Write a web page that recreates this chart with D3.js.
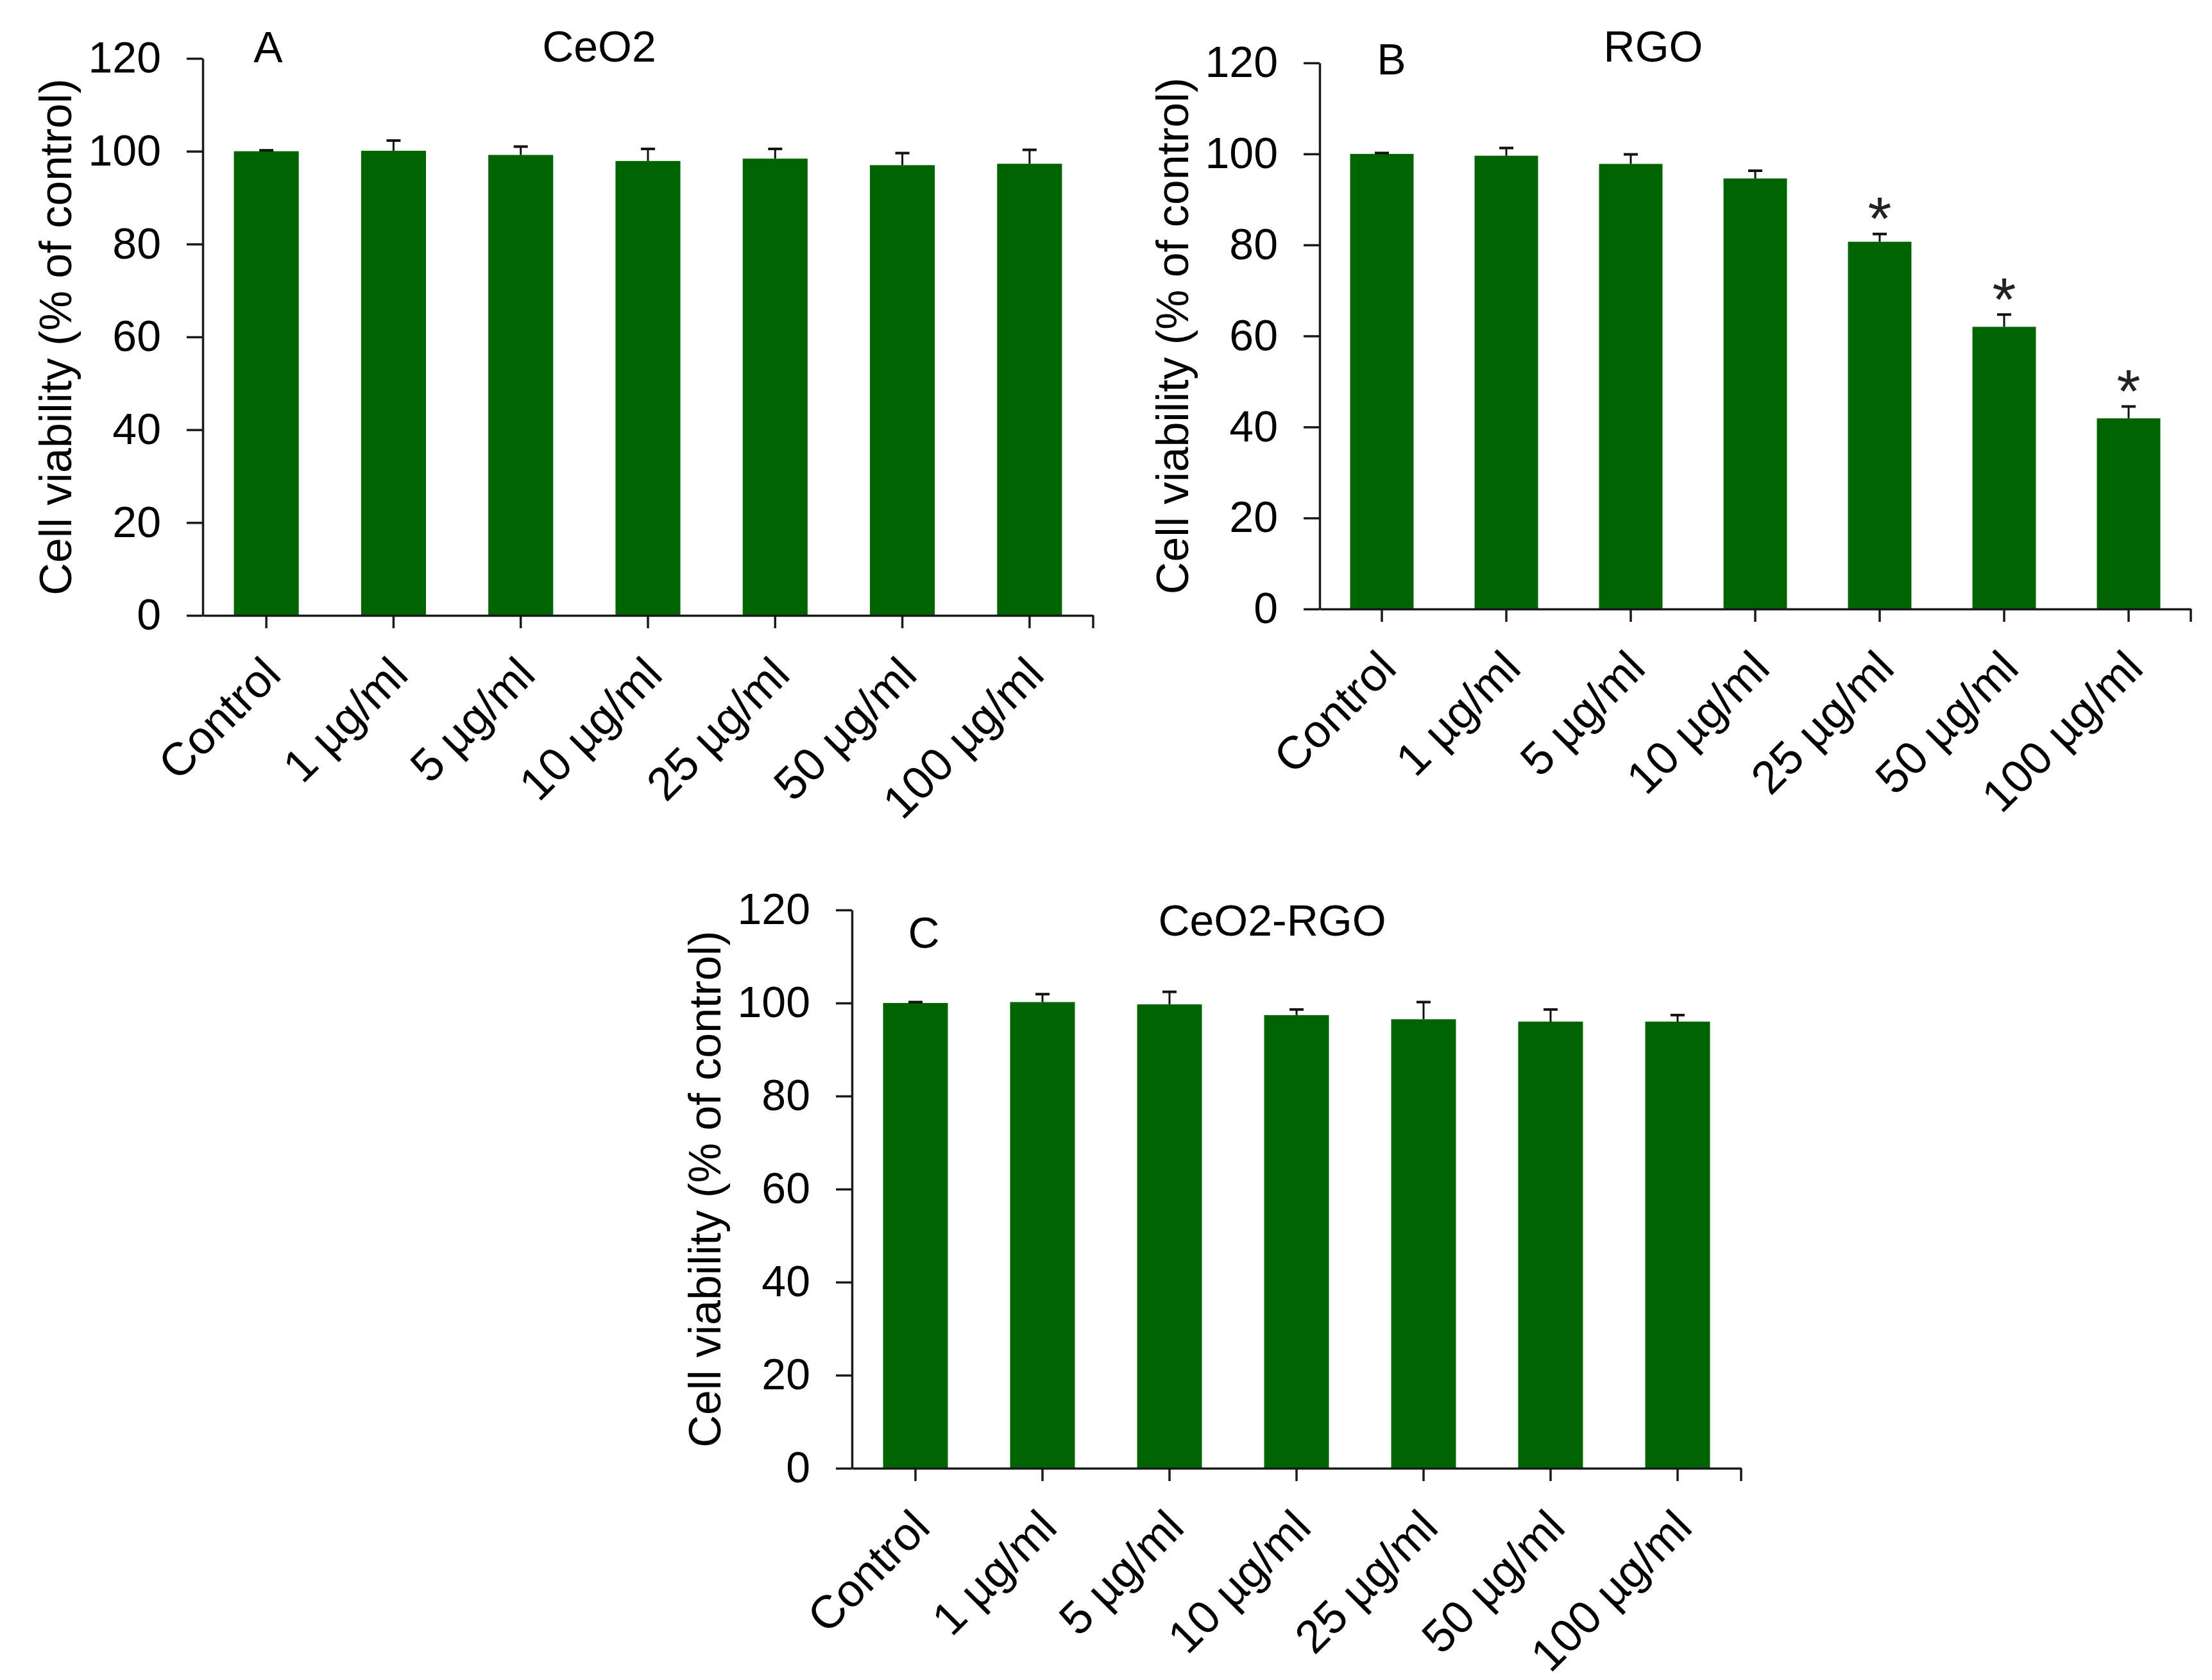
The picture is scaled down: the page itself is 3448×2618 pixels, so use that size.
<!DOCTYPE html>
<html>
<head>
<meta charset="utf-8">
<script src="https://cdn.jsdelivr.net/npm/d3@7"></script>
<style>
  html, body { margin: 0; padding: 0; background: #fff; }
  text { font-family: "Liberation Sans", Arial, sans-serif; fill: #000; }
</style>
</head>
<body>
<svg id="chart" width="3448" height="2618"></svg>
<script>
"use strict"

// concentrations on the x axis, same for every panel
var categories = ["Control", "1 µg/ml", "5 µg/ml", "10 µg/ml", "25 µg/ml", "50 µg/ml", "100 µg/ml"]
var yTicks = [0, 20, 40, 60, 80, 100, 120]

// A: CeO2
var ceo2Values = [100, 100.1, 99.2, 97.9, 98.4, 97.0, 97.3]
var ceo2Errors = [0.2, 2.2, 1.8, 2.6, 2.1, 2.6, 3.0]
// B: RGO
var rgoValues = [100, 99.6, 97.8, 94.6, 80.7, 62.0, 41.9]
var rgoErrors = [0.2, 1.7, 2.1, 1.7, 1.7, 2.7, 2.6]
var rgoSignificant = [false, false, false, false, true, true, true]
// C: CeO2-RGO
var ceo2RgoValues = [100, 100.2, 99.7, 97.4, 96.5, 96.0, 96.0]
var ceo2RgoErrors = [0.2, 1.7, 2.7, 1.2, 3.7, 2.6, 1.4]

var svg = d3.select("#chart")
var barColor = "#006400"
var axisColor = "#1a1a1a"

function drawPanel(p) {
  var x = d3.scaleBand().domain(categories)
    .range([p.left, p.right]).paddingInner(0.49).paddingOuter(0.245)
  var y = d3.scaleLinear().domain([0, 120]).range([p.bottom, p.top])

  var g = svg.append("g")

  var rows = categories.map(function(c, i) {
    return { cat: c, v: p.values[i], e: p.errors[i], sig: p.sig ? p.sig[i] : false }
  })

  // bars
  g.selectAll("rect.bar").data(rows).enter().append("rect")
    .attr("class", "bar")
    .attr("x", function(d) { return x(d.cat) })
    .attr("width", x.bandwidth())
    .attr("y", function(d) { return y(d.v) })
    .attr("height", function(d) { return y(0) - y(d.v) })
    .attr("fill", barColor)

  // upper error bars
  var capHalf = 11
  var eb = g.selectAll("g.err").data(rows).enter().append("g").attr("class", "err")
  eb.append("line")
    .attr("x1", function(d) { return x(d.cat) + x.bandwidth() / 2 })
    .attr("x2", function(d) { return x(d.cat) + x.bandwidth() / 2 })
    .attr("y1", function(d) { return y(d.v) })
    .attr("y2", function(d) { return y(d.v + d.e) })
    .attr("stroke", "#111").attr("stroke-width", 3)
  eb.append("line")
    .attr("x1", function(d) { return x(d.cat) + x.bandwidth() / 2 - capHalf })
    .attr("x2", function(d) { return x(d.cat) + x.bandwidth() / 2 + capHalf })
    .attr("y1", function(d) { return y(d.v + d.e) })
    .attr("y2", function(d) { return y(d.v + d.e) })
    .attr("stroke", "#111").attr("stroke-width", 4)

  // significance stars, centred ~45px above the cap
  var starSize = 95
  g.selectAll("text.star").data(rows.filter(function(d) { return d.sig })).enter().append("text")
    .attr("class", "star")
    .attr("x", function(d) { return x(d.cat) + x.bandwidth() / 2 })
    .attr("y", function(d) { return y(d.v + d.e) - 45 + 0.566 * starSize })
    .attr("text-anchor", "middle")
    .style("font-size", starSize + "px")
    .style("fill", "#222")
    .text("*")

  // y axis
  var yAxis = d3.axisLeft(y).tickValues(yTicks).tickSize(25).tickPadding(40).tickSizeOuter(0)
  var ya = g.append("g").attr("transform", "translate(" + p.left + ",0)").call(yAxis)
  ya.select(".domain").attr("stroke", axisColor).attr("stroke-width", 3.5)
  ya.selectAll(".tick line").attr("stroke", axisColor).attr("stroke-width", 3.5)
  ya.selectAll(".tick text").style("font-size", "68px").attr("fill", "#000")
    .style("font-family", "'Liberation Sans', Arial, sans-serif")

  // x axis
  var xAxis = d3.axisBottom(x).tickSize(20).tickSizeOuter(0)
  var xa = g.append("g").attr("transform", "translate(0," + p.bottom + ")").call(xAxis)
  xa.select(".domain").attr("stroke", axisColor).attr("stroke-width", 3.5)
  xa.selectAll(".tick line").attr("stroke", axisColor).attr("stroke-width", 3.5)
  xa.selectAll(".tick text").remove()
  // end tick at right of axis
  xa.append("line").attr("x1", p.right).attr("x2", p.right).attr("y1", 0).attr("y2", 20)
    .attr("stroke", axisColor).attr("stroke-width", 3.5)

  // rotated category labels
  g.selectAll("text.xlab").data(categories).enter().append("text")
    .attr("class", "xlab")
    .attr("transform", function(d) {
      return "translate(" + (x(d) + x.bandwidth() / 2 - 10) + "," + (p.bottom + 60) + ") rotate(-45)"
    })
    .attr("text-anchor", "end")
    .attr("dy", "0.71em")
    .style("font-size", "72px")
    .text(function(d) { return d })

  // axis title
  g.append("text")
    .attr("transform", "translate(" + (p.left - 230) + "," + ((p.top + p.bottom) / 2) + ") rotate(-90)")
    .attr("text-anchor", "middle")
    .attr("dy", "0.35em")
    .style("font-size", "70px")
    .text("Cell viability (% of control)")

  // panel letter and title
  g.append("text").attr("x", p.letterX).attr("y", p.letterY)
    .attr("text-anchor", "middle").style("font-size", "68px").text(p.letter)
  g.append("text").attr("x", p.titleX).attr("y", p.titleY)
    .attr("text-anchor", "middle").style("font-size", "68px").text(p.title)
}

drawPanel({ left: 316, right: 1704, top: 91, bottom: 959,
  values: ceo2Values, errors: ceo2Errors,
  letter: "A", letterX: 418, letterY: 97, title: "CeO2", titleX: 934, titleY: 96 })

drawPanel({ left: 2057, right: 3415, top: 98, bottom: 949,
  values: rgoValues, errors: rgoErrors, sig: rgoSignificant,
  letter: "B", letterX: 2169, letterY: 116, title: "RGO", titleX: 2577, titleY: 96 })

drawPanel({ left: 1328, right: 2714, top: 1418, bottom: 2288,
  values: ceo2RgoValues, errors: ceo2RgoErrors,
  letter: "C", letterX: 1440, letterY: 1477, title: "CeO2-RGO", titleX: 1983, titleY: 1458 })
</script>
</body>
</html>
